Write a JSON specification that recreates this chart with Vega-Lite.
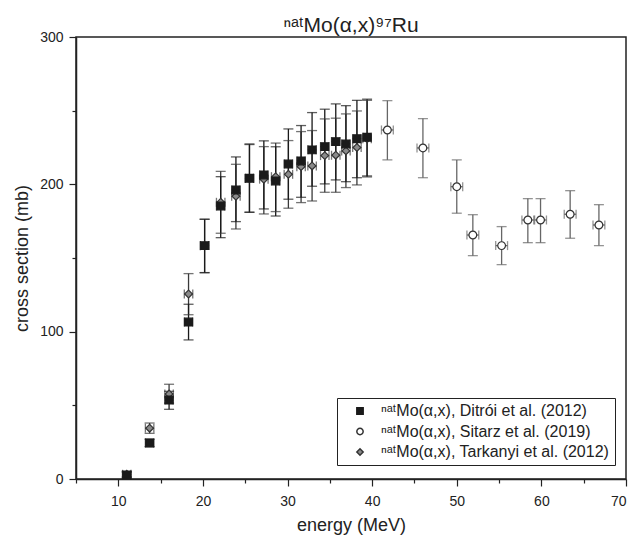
{
  "$schema": "https://vega.github.io/schema/vega-lite/v6.json",
  "width": 550,
  "height": 442,
  "autosize": {"type": "none"},
  "padding": {"left": 76, "top": 37, "right": 10, "bottom": 62},
  "config": {
    "font": "Liberation Sans, DejaVu Sans",
    "view": {"stroke": "#222", "strokeWidth": 1.5},
    "axis": {
      "labelFontSize": 14,
      "titleFontSize": 18,
      "titleFontWeight": "normal",
      "labelColor": "#222",
      "titleColor": "#222",
      "domainColor": "#222",
      "tickColor": "#222",
      "domainWidth": 1.5,
      "tickWidth": 1.2,
      "tickSize": 7,
      "grid": false
    }
  },
  "title": {"text": "ⁿᵃᵗMo(α,x)⁹⁷Ru", "fontSize": 21, "fontWeight": "normal", "anchor": "middle", "frame": "group", "offset": 0, "dy": 6, "color": "#222"},
  "data": {
    "values": [
      {"s": "ⁿᵃᵗMo(α,x), Sitarz et al. (2019)", "e": 41.8, "cs": 236.9, "lo": 216.6, "hi": 256.8, "elo": 41.1, "ehi": 42.5},
      {"s": "ⁿᵃᵗMo(α,x), Sitarz et al. (2019)", "e": 46.0, "cs": 224.7, "lo": 204.5, "hi": 244.6, "elo": 45.3, "ehi": 46.7},
      {"s": "ⁿᵃᵗMo(α,x), Sitarz et al. (2019)", "e": 50.0, "cs": 198.4, "lo": 180.4, "hi": 216.6, "elo": 49.3, "ehi": 50.7},
      {"s": "ⁿᵃᵗMo(α,x), Sitarz et al. (2019)", "e": 51.9, "cs": 165.6, "lo": 151.6, "hi": 179.4, "elo": 51.2, "ehi": 52.6},
      {"s": "ⁿᵃᵗMo(α,x), Sitarz et al. (2019)", "e": 55.3, "cs": 158.4, "lo": 145.5, "hi": 171.3, "elo": 54.6, "ehi": 56.0},
      {"s": "ⁿᵃᵗMo(α,x), Sitarz et al. (2019)", "e": 58.4, "cs": 175.8, "lo": 160.4, "hi": 190.3, "elo": 57.7, "ehi": 59.1},
      {"s": "ⁿᵃᵗMo(α,x), Sitarz et al. (2019)", "e": 59.9, "cs": 175.8, "lo": 160.4, "hi": 190.3, "elo": 59.2, "ehi": 60.6},
      {"s": "ⁿᵃᵗMo(α,x), Sitarz et al. (2019)", "e": 63.4, "cs": 179.7, "lo": 163.4, "hi": 195.7, "elo": 62.7, "ehi": 64.1},
      {"s": "ⁿᵃᵗMo(α,x), Sitarz et al. (2019)", "e": 66.8, "cs": 172.4, "lo": 158.4, "hi": 186.2, "elo": 66.1, "ehi": 67.5},

      {"s": "ⁿᵃᵗMo(α,x), Tarkanyi et al. (2012)", "e": 11.0, "cs": 3.2, "lo": 1.5, "hi": 5.0, "elo": 10.5, "ehi": 11.5},
      {"s": "ⁿᵃᵗMo(α,x), Tarkanyi et al. (2012)", "e": 13.7, "cs": 34.5, "lo": 31.0, "hi": 38.0, "elo": 13.2, "ehi": 14.2},
      {"s": "ⁿᵃᵗMo(α,x), Tarkanyi et al. (2012)", "e": 16.0, "cs": 57.7, "lo": 51.5, "hi": 64.3, "elo": 15.5, "ehi": 16.5},
      {"s": "ⁿᵃᵗMo(α,x), Tarkanyi et al. (2012)", "e": 18.3, "cs": 125.6, "lo": 111.5, "hi": 139.4, "elo": 17.8, "ehi": 18.8},
      {"s": "ⁿᵃᵗMo(α,x), Tarkanyi et al. (2012)", "e": 20.2, "cs": 158.4, "lo": 140.0, "hi": 176.3, "elo": 19.7, "ehi": 20.7},
      {"s": "ⁿᵃᵗMo(α,x), Tarkanyi et al. (2012)", "e": 22.1, "cs": 187.8, "lo": 166.8, "hi": 208.8, "elo": 21.6, "ehi": 22.6},
      {"s": "ⁿᵃᵗMo(α,x), Tarkanyi et al. (2012)", "e": 23.9, "cs": 191.9, "lo": 169.7, "hi": 213.6, "elo": 23.4, "ehi": 24.4},
      {"s": "ⁿᵃᵗMo(α,x), Tarkanyi et al. (2012)", "e": 25.5, "cs": 204.0, "lo": 181.0, "hi": 227.0, "elo": 25.0, "ehi": 26.0},
      {"s": "ⁿᵃᵗMo(α,x), Tarkanyi et al. (2012)", "e": 27.2, "cs": 203.5, "lo": 179.9, "hi": 225.6, "elo": 26.7, "ehi": 27.7},
      {"s": "ⁿᵃᵗMo(α,x), Tarkanyi et al. (2012)", "e": 28.6, "cs": 205.2, "lo": 181.5, "hi": 228.0, "elo": 28.1, "ehi": 29.1},
      {"s": "ⁿᵃᵗMo(α,x), Tarkanyi et al. (2012)", "e": 30.1, "cs": 206.8, "lo": 183.8, "hi": 229.7, "elo": 29.6, "ehi": 30.6},
      {"s": "ⁿᵃᵗMo(α,x), Tarkanyi et al. (2012)", "e": 31.6, "cs": 212.0, "lo": 187.6, "hi": 235.8, "elo": 31.1, "ehi": 32.1},
      {"s": "ⁿᵃᵗMo(α,x), Tarkanyi et al. (2012)", "e": 32.9, "cs": 212.5, "lo": 188.7, "hi": 236.5, "elo": 32.4, "ehi": 33.4},
      {"s": "ⁿᵃᵗMo(α,x), Tarkanyi et al. (2012)", "e": 34.4, "cs": 219.5, "lo": 194.6, "hi": 244.4, "elo": 33.9, "ehi": 34.9},
      {"s": "ⁿᵃᵗMo(α,x), Tarkanyi et al. (2012)", "e": 35.7, "cs": 219.8, "lo": 194.6, "hi": 244.9, "elo": 35.2, "ehi": 36.2},
      {"s": "ⁿᵃᵗMo(α,x), Tarkanyi et al. (2012)", "e": 36.9, "cs": 222.7, "lo": 197.8, "hi": 247.8, "elo": 36.4, "ehi": 37.4},
      {"s": "ⁿᵃᵗMo(α,x), Tarkanyi et al. (2012)", "e": 38.2, "cs": 225.0, "lo": 199.6, "hi": 249.8, "elo": 37.7, "ehi": 38.7},
      {"s": "ⁿᵃᵗMo(α,x), Tarkanyi et al. (2012)", "e": 39.4, "cs": 231.0, "lo": 205.0, "hi": 257.0, "elo": 38.9, "ehi": 39.9},

      {"s": "ⁿᵃᵗMo(α,x), Ditrói et al. (2012)", "e": 11.0, "cs": 2.7, "lo": 0.7, "hi": 4.7, "elo": 10.5, "ehi": 11.5},
      {"s": "ⁿᵃᵗMo(α,x), Ditrói et al. (2012)", "e": 13.7, "cs": 24.5, "lo": 22.0, "hi": 27.0, "elo": 13.2, "ehi": 14.2},
      {"s": "ⁿᵃᵗMo(α,x), Ditrói et al. (2012)", "e": 16.0, "cs": 53.6, "lo": 47.3, "hi": 59.5, "elo": 15.5, "ehi": 16.5},
      {"s": "ⁿᵃᵗMo(α,x), Ditrói et al. (2012)", "e": 18.3, "cs": 106.5, "lo": 94.4, "hi": 118.6, "elo": 17.8, "ehi": 18.8},
      {"s": "ⁿᵃᵗMo(α,x), Ditrói et al. (2012)", "e": 20.2, "cs": 158.4, "lo": 140.1, "hi": 176.3, "elo": 19.7, "ehi": 20.7},
      {"s": "ⁿᵃᵗMo(α,x), Ditrói et al. (2012)", "e": 22.1, "cs": 185.3, "lo": 163.8, "hi": 205.2, "elo": 21.6, "ehi": 22.6},
      {"s": "ⁿᵃᵗMo(α,x), Ditrói et al. (2012)", "e": 23.9, "cs": 196.2, "lo": 174.7, "hi": 218.6, "elo": 23.4, "ehi": 24.4},
      {"s": "ⁿᵃᵗMo(α,x), Ditrói et al. (2012)", "e": 25.5, "cs": 204.1, "lo": 181.1, "hi": 227.4, "elo": 25.0, "ehi": 26.0},
      {"s": "ⁿᵃᵗMo(α,x), Ditrói et al. (2012)", "e": 27.2, "cs": 206.4, "lo": 183.3, "hi": 229.5, "elo": 26.7, "ehi": 27.7},
      {"s": "ⁿᵃᵗMo(α,x), Ditrói et al. (2012)", "e": 28.6, "cs": 202.3, "lo": 178.5, "hi": 225.5, "elo": 28.1, "ehi": 29.1},
      {"s": "ⁿᵃᵗMo(α,x), Ditrói et al. (2012)", "e": 30.1, "cs": 213.8, "lo": 189.9, "hi": 237.6, "elo": 29.6, "ehi": 30.6},
      {"s": "ⁿᵃᵗMo(α,x), Ditrói et al. (2012)", "e": 31.6, "cs": 215.9, "lo": 191.2, "hi": 239.9, "elo": 31.1, "ehi": 32.1},
      {"s": "ⁿᵃᵗMo(α,x), Ditrói et al. (2012)", "e": 32.9, "cs": 223.4, "lo": 198.7, "hi": 248.7, "elo": 32.4, "ehi": 33.4},
      {"s": "ⁿᵃᵗMo(α,x), Ditrói et al. (2012)", "e": 34.4, "cs": 225.6, "lo": 200.3, "hi": 251.0, "elo": 33.9, "ehi": 34.9},
      {"s": "ⁿᵃᵗMo(α,x), Ditrói et al. (2012)", "e": 35.7, "cs": 229.0, "lo": 203.0, "hi": 254.6, "elo": 35.2, "ehi": 36.2},
      {"s": "ⁿᵃᵗMo(α,x), Ditrói et al. (2012)", "e": 36.9, "cs": 227.4, "lo": 201.8, "hi": 253.4, "elo": 36.4, "ehi": 37.4},
      {"s": "ⁿᵃᵗMo(α,x), Ditrói et al. (2012)", "e": 38.2, "cs": 231.0, "lo": 204.5, "hi": 257.0, "elo": 37.7, "ehi": 38.7},
      {"s": "ⁿᵃᵗMo(α,x), Ditrói et al. (2012)", "e": 39.4, "cs": 232.0, "lo": 205.7, "hi": 257.8, "elo": 38.9, "ehi": 39.9}
    ]
  },
  "resolve": {"axis": {"x": "independent", "y": "independent"}},
  "layer": [
    {
      "mark": {"type": "rule", "strokeWidth": 1.3},
      "encoding": {
        "x": {"field": "e", "type": "quantitative", "scale": {"domain": [5, 70], "nice": false, "zero": false},
              "axis": {"values": [10, 20, 30, 40, 50, 60, 70], "title": "energy (MeV)", "titlePadding": 8, "labelPadding": 8, "orient": "bottom"}},
        "y": {"field": "lo", "type": "quantitative", "scale": {"domain": [0, 300], "nice": false},
              "axis": {"values": [0, 100, 200, 300], "title": "cross section (mb)", "titlePadding": 8, "labelPadding": 6, "orient": "left"}},
        "y2": {"field": "hi"},
        "color": {"field": "s", "type": "nominal", "legend": null,
                  "scale": {"domain": ["ⁿᵃᵗMo(α,x), Sitarz et al. (2019)", "ⁿᵃᵗMo(α,x), Ditrói et al. (2012)", "ⁿᵃᵗMo(α,x), Tarkanyi et al. (2012)"], "range": ["#666666", "#1a1a1a", "#3a3a3a"]}}
      }
    },
    {
      "mark": {"type": "tick", "orient": "horizontal", "size": 10, "thickness": 1.3},
      "encoding": {
        "x": {"field": "e", "type": "quantitative",
              "axis": {"values": [5, 15, 25, 35, 45, 55, 65], "labels": false, "domain": false, "tickSize": 4, "title": null, "orient": "bottom"}},
        "y": {"field": "lo", "type": "quantitative",
              "axis": {"values": [50, 150, 250], "labels": false, "domain": false, "tickSize": 4, "title": null, "orient": "left"}},
        "color": {"field": "s", "type": "nominal", "legend": null}
      }
    },
    {
      "mark": {"type": "tick", "orient": "horizontal", "size": 10, "thickness": 1.3},
      "encoding": {
        "x": {"field": "e", "type": "quantitative", "axis": null},
        "y": {"field": "hi", "type": "quantitative", "axis": null},
        "color": {"field": "s", "type": "nominal", "legend": null}
      }
    },
    {
      "mark": {"type": "rule", "strokeWidth": 1.3},
      "encoding": {
        "x": {"field": "elo", "type": "quantitative", "axis": null},
        "x2": {"field": "ehi"},
        "y": {"field": "cs", "type": "quantitative", "axis": null},
        "color": {"field": "s", "type": "nominal", "legend": null}
      }
    },
    {
      "mark": {"type": "tick", "orient": "vertical", "size": 9, "thickness": 1.3},
      "encoding": {
        "x": {"field": "elo", "type": "quantitative", "axis": null},
        "y": {"field": "cs", "type": "quantitative", "axis": null},
        "color": {"field": "s", "type": "nominal", "legend": null}
      }
    },
    {
      "mark": {"type": "tick", "orient": "vertical", "size": 9, "thickness": 1.3},
      "encoding": {
        "x": {"field": "ehi", "type": "quantitative", "axis": null},
        "y": {"field": "cs", "type": "quantitative", "axis": null},
        "color": {"field": "s", "type": "nominal", "legend": null}
      }
    },
    {
      "mark": {"type": "point", "size": 60, "opacity": 1, "strokeWidth": 1.2, "filled": false},
      "encoding": {
        "x": {"field": "e", "type": "quantitative", "axis": null},
        "y": {"field": "cs", "type": "quantitative", "axis": null},
        "shape": {"field": "s", "type": "nominal",
                  "scale": {"domain": ["ⁿᵃᵗMo(α,x), Ditrói et al. (2012)", "ⁿᵃᵗMo(α,x), Sitarz et al. (2019)", "ⁿᵃᵗMo(α,x), Tarkanyi et al. (2012)"], "range": ["square", "circle", "diamond"]},
                  "legend": {"title": null, "orient": "none", "legendX": 261, "legendY": 361, "strokeColor": "#222", "padding": 5, "symbolOffset": 10, "columnPadding": 0, "labelFontSize": 16, "labelColor": "#222", "symbolSize": 40, "rowPadding": 4.5, "labelOffset": 13, "labelLimit": 400}},
        "fill": {"field": "s", "type": "nominal",
                 "scale": {"domain": ["ⁿᵃᵗMo(α,x), Ditrói et al. (2012)", "ⁿᵃᵗMo(α,x), Sitarz et al. (2019)", "ⁿᵃᵗMo(α,x), Tarkanyi et al. (2012)"], "range": ["#1a1a1a", "#ffffff", "#8a8a8a"]},
                 "legend": {"title": null, "orient": "none", "legendX": 261, "legendY": 361, "strokeColor": "#222", "padding": 5, "symbolOffset": 10, "columnPadding": 0, "labelFontSize": 16, "labelColor": "#222", "symbolSize": 40, "rowPadding": 4.5, "labelOffset": 13, "labelLimit": 400}},
        "stroke": {"field": "s", "type": "nominal",
                   "scale": {"domain": ["ⁿᵃᵗMo(α,x), Ditrói et al. (2012)", "ⁿᵃᵗMo(α,x), Sitarz et al. (2019)", "ⁿᵃᵗMo(α,x), Tarkanyi et al. (2012)"], "range": ["#1a1a1a", "#333333", "#333333"]},
                   "legend": {"title": null, "orient": "none", "legendX": 261, "legendY": 361, "strokeColor": "#222", "padding": 5, "symbolOffset": 10, "columnPadding": 0, "labelFontSize": 16, "labelColor": "#222", "symbolSize": 40, "rowPadding": 4.5, "labelOffset": 13, "labelLimit": 400}}
      }
    }
  ]
}
